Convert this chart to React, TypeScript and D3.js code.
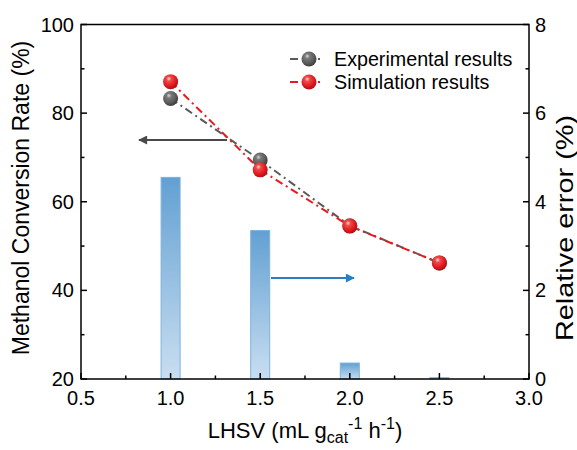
import React from "react";
import * as d3 from "d3";

const lhsv = [1.0, 1.5, 2.0, 2.5];
const experimental = [83.3, 69.4, 54.6, 46.2];
const simulation = [87.1, 67.2, 54.5, 46.2];
const relativeError = [4.55, 3.35, 0.36, 0.03];
const xTicks = [0.5, 1.0, 1.5, 2.0, 2.5, 3.0];
const yLeftTicks = [20, 40, 60, 80, 100];
const yRightTicks = [0, 2, 4, 6, 8];

const W = 577, H = 450;
const L = 81, R = 529, T = 24.5, B = 379;
const FONT = "'Liberation Sans', Arial, sans-serif";

export default function App() {
  const x = d3.scaleLinear().domain([0.5, 3.0]).range([L, R]);
  const yL = d3.scaleLinear().domain([20, 100]).range([B, T]);
  const yR = d3.scaleLinear().domain([0, 8]).range([B, T]);
  const line = (vals: number[]) =>
    d3.line<number>().x((_, i) => x(lhsv[i])).y((v) => yL(v))(vals) || "";
  const barW = 19;
  const xMinor = d3.range(0.75, 3.0, 0.5);
  const yLMinor = [30, 50, 70, 90];
  const yRMinor = [1, 3, 5, 7];

  return (
    <svg width={W} height={H} style={{ position: "absolute", left: 0, top: 0, background: "#fff" }} fontFamily={FONT}>
      <defs>
        <linearGradient id="barGrad" x1="0" y1="0" x2="0" y2="1">
          <stop offset="0" stopColor="#62a0d2" />
          <stop offset="1" stopColor="#c9def1" />
        </linearGradient>
        <radialGradient id="redBall" cx="0.4" cy="0.35" r="0.65" fx="0.38" fy="0.3">
          <stop offset="0" stopColor="#ffd6d6" />
          <stop offset="0.25" stopColor="#f04a4a" />
          <stop offset="0.7" stopColor="#e01a1e" />
          <stop offset="1" stopColor="#b01015" />
        </radialGradient>
        <radialGradient id="grayBall" cx="0.4" cy="0.35" r="0.65" fx="0.38" fy="0.3">
          <stop offset="0" stopColor="#d8d8d8" />
          <stop offset="0.25" stopColor="#7a7a7a" />
          <stop offset="0.7" stopColor="#5a5a5a" />
          <stop offset="1" stopColor="#3e3e3e" />
        </radialGradient>
        <marker id="headGray" viewBox="0 0 10 10" refX="9" refY="5" markerWidth="7" markerHeight="4.5" orient="auto-start-reverse" markerUnits="strokeWidth">
          <path d="M0,0 L10,5 L0,10 z" fill="#4a4a4a" />
        </marker>
        <marker id="headBlue" viewBox="0 0 10 10" refX="9" refY="5" markerWidth="7" markerHeight="4.5" orient="auto-start-reverse" markerUnits="strokeWidth">
          <path d="M0,0 L10,5 L0,10 z" fill="#2e7ebf" />
        </marker>
      </defs>

      {/* bars */}
      {lhsv.map((v, i) => (
        <rect key={"b" + i} x={x(v) - barW / 2} y={yR(relativeError[i])} width={barW}
          height={B - yR(relativeError[i])} fill="url(#barGrad)" stroke="#7db2de" strokeWidth={1} />
      ))}

      {/* lines */}
      <path d={line(experimental)} fill="none" stroke="#5a5a5a" strokeWidth={2} strokeDasharray="8 4 2 4" />
      <path d={line(simulation)} fill="none" stroke="#e8191f" strokeWidth={2} strokeDasharray="8 4 2 4" />

      {/* arrows */}
      <line x1={227} y1={140} x2={139} y2={140} stroke="#4a4a4a" strokeWidth={2} markerEnd="url(#headGray)" />
      <line x1={271} y1={278} x2={354} y2={278} stroke="#2e7ebf" strokeWidth={2} markerEnd="url(#headBlue)" />

      {/* markers */}
      {lhsv.map((v, i) => (
        <circle key={"e" + i} cx={x(v)} cy={yL(experimental[i])} r={7.5} fill="url(#grayBall)" />
      ))}
      {lhsv.map((v, i) => (
        <circle key={"s" + i} cx={x(v)} cy={yL(simulation[i])} r={7.5} fill="url(#redBall)" />
      ))}

      {/* frame */}
      <rect x={L} y={T} width={R - L} height={B - T} fill="none" stroke="#000" strokeWidth={1.5} />

      {/* x ticks */}
      {xTicks.map((t) => (
        <g key={"xt" + t}>
          <line x1={x(t)} x2={x(t)} y1={B} y2={B - 6} stroke="#000" strokeWidth={1.5} />
          <text x={x(t)} y={405} fontSize={20} textAnchor="middle">{t.toFixed(1)}</text>
        </g>
      ))}
      {xMinor.map((t) => (
        <line key={"xm" + t} x1={x(t)} x2={x(t)} y1={B} y2={B - 3.5} stroke="#000" strokeWidth={1.5} />
      ))}

      {/* left ticks */}
      {yLeftTicks.map((t) => (
        <g key={"yl" + t}>
          <line x1={L} x2={L + 6} y1={yL(t)} y2={yL(t)} stroke="#000" strokeWidth={1.5} />
          <text x={74} y={yL(t) + 7} fontSize={20} textAnchor="end">{t}</text>
        </g>
      ))}
      {yLMinor.map((t) => (
        <line key={"ylm" + t} x1={L} x2={L + 3.5} y1={yL(t)} y2={yL(t)} stroke="#000" strokeWidth={1.5} />
      ))}

      {/* right ticks */}
      {yRightTicks.map((t) => (
        <g key={"yr" + t}>
          <line x1={R} x2={R - 6} y1={yR(t)} y2={yR(t)} stroke="#000" strokeWidth={1.5} />
          <text x={535} y={yR(t) + 7} fontSize={20} textAnchor="start">{t}</text>
        </g>
      ))}
      {yRMinor.map((t) => (
        <line key={"yrm" + t} x1={R} x2={R - 3.5} y1={yR(t)} y2={yR(t)} stroke="#000" strokeWidth={1.5} />
      ))}

      {/* axis titles */}
      <text transform="translate(29,198) rotate(-90)" fontSize={23} textAnchor="middle">Methanol Conversion Rate (%)</text>
      <text transform="translate(573,228) rotate(-90)" fontSize={24} textAnchor="middle" textLength={226} lengthAdjust="spacingAndGlyphs">Relative error (%)</text>
      <text x={305} y={438} fontSize={22} textAnchor="middle">
        LHSV (mL g<tspan fontSize={16} dy={5}>cat</tspan><tspan fontSize={16} dy={-14}>-1</tspan><tspan dy={9}> h</tspan><tspan fontSize={16} dy={-9}>-1</tspan><tspan dy={9}>)</tspan>
      </text>

      {/* legend */}
      <line x1={290} x2={326} y1={59} y2={59} stroke="#5a5a5a" strokeWidth={2} strokeDasharray="8 20 2 6" />
      <circle cx={309} cy={59} r={7.5} fill="url(#grayBall)" />
      <text x={334} y={66} fontSize={19.7}>Experimental results</text>
      <line x1={290} x2={326} y1={82} y2={82} stroke="#e8191f" strokeWidth={2} strokeDasharray="8 20 2 6" />
      <circle cx={309} cy={82} r={7.5} fill="url(#redBall)" />
      <text x={334} y={89} fontSize={19.7}>Simulation results</text>
    </svg>
  );
}
